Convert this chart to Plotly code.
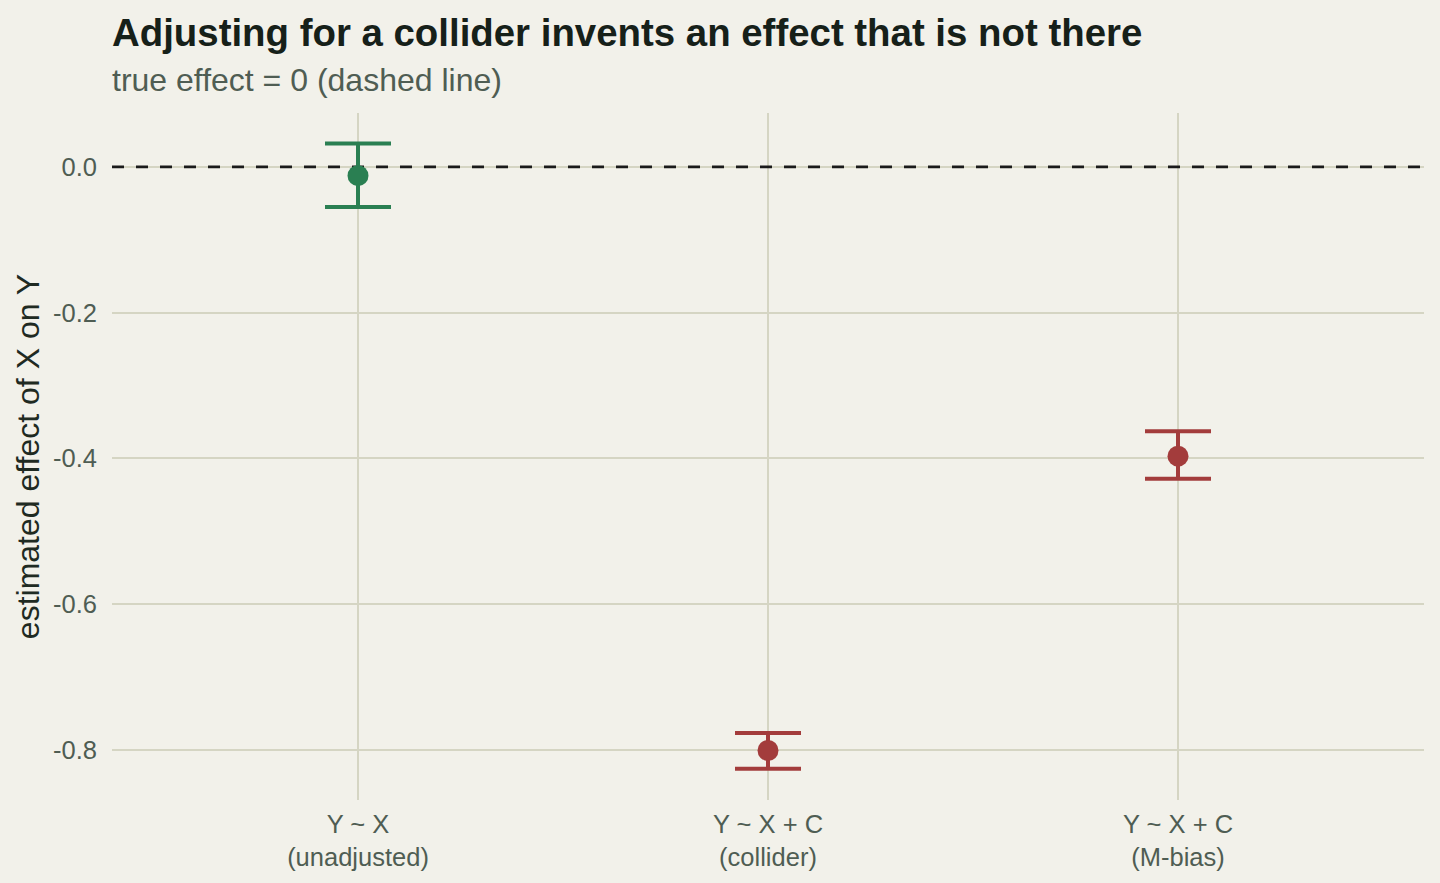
import plotly.graph_objects as go

categories = ["Y ~ X<br>(unadjusted)", "Y ~ X + C<br>(collider)", "Y ~ X + C<br>(M-bias)"]
estimates = [-0.012, -0.801, -0.397]
ci_upper = [0.032, -0.777, -0.363]
ci_lower = [-0.055, -0.826, -0.428]
colors = ["#2a7f52", "#a33c3c", "#a33c3c"]
true_effect = 0.0
x_range = [-0.6, 2.6]

BG = "#f2f1ea"
GRID = "#d5d5c3"

fig = go.Figure()
# reference line (true effect) drawn first so markers sit on top
fig.add_trace(go.Scatter(
    x=x_range, y=[true_effect, true_effect], mode="lines",
    line=dict(color="#1a1a1a", width=2.8, dash="12px,12px"),
    showlegend=False, hoverinfo="skip", cliponaxis=False,
))
for i, cat in enumerate(categories):
    fig.add_trace(go.Scatter(
        x=[i], y=[estimates[i]],
        mode="markers",
        marker=dict(color=colors[i], size=21),
        error_y=dict(type="data", symmetric=False,
                     array=[ci_upper[i] - estimates[i]],
                     arrayminus=[estimates[i] - ci_lower[i]],
                     color=colors[i], thickness=4, width=33),
        showlegend=False, hoverinfo="skip",
    ))

fig.update_layout(
    width=1440, height=883,
    paper_bgcolor=BG, plot_bgcolor=BG,
    margin=dict(l=112, r=16, t=113, b=83),
    font=dict(family="Liberation Sans, Arial, sans-serif"),
    showlegend=False,
)
fig.add_annotation(text="<b>Adjusting for a collider invents an effect that is not there</b>",
                   xref="paper", yref="paper", x=0, y=1, xanchor="left", yanchor="middle",
                   yshift=113 - 32, xshift=-2, showarrow=False, font=dict(size=38.4, color="#162019"))
fig.add_annotation(text="true effect = 0 (dashed line)",
                   xref="paper", yref="paper", x=0, y=1, xanchor="left", yanchor="middle",
                   yshift=113 - 80, xshift=-2, showarrow=False, font=dict(size=32, color="#4f5d53"))

fig.update_xaxes(
    range=x_range, tickvals=[0, 1, 2], ticktext=categories,
    showgrid=True, gridcolor=GRID, gridwidth=2, zeroline=False, showline=False,
    ticks="", tickfont=dict(size=25.5, color="#4f5d53"), ticklabelstandoff=6,
)
fig.update_yaxes(
    range=[-0.869, 0.074], tickvals=[0, -0.2, -0.4, -0.6, -0.8],
    ticktext=["0.0", "-0.2", "-0.4", "-0.6", "-0.8"],
    showgrid=True, gridcolor=GRID, gridwidth=2, zeroline=False, showline=False,
    ticks="", tickfont=dict(size=25.5, color="#4f5d53"), ticklabelstandoff=14,
    title=dict(text="estimated effect of X on Y", font=dict(size=32, color="#1f2a22"), standoff=3),
)

fig.write_html("out.html")
